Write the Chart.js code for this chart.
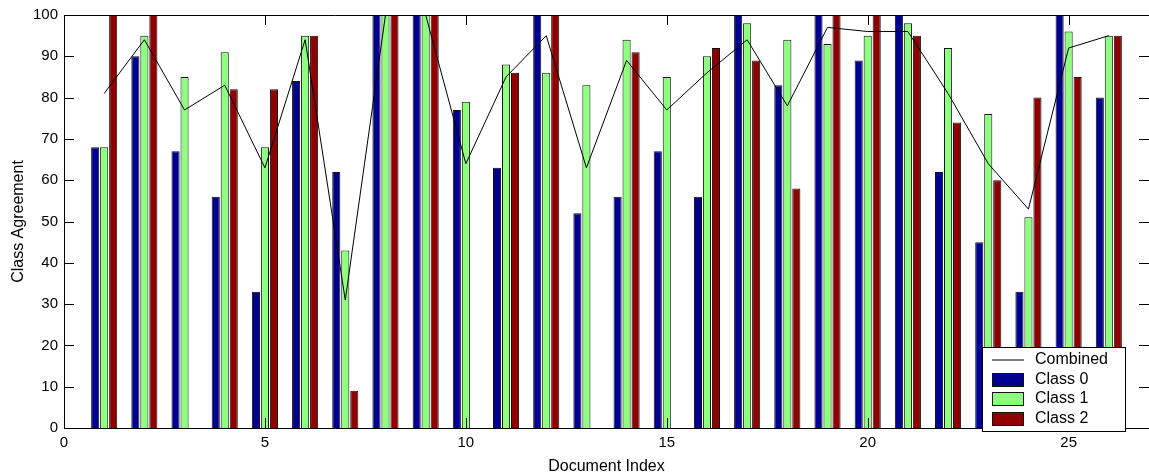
<!DOCTYPE html>
<html>
<head>
<meta charset="utf-8">
<title>Class Agreement</title>
<script src="https://cdn.jsdelivr.net/npm/chart.js@4.4.0/dist/chart.umd.min.js"></script>
<style>
  html, body { margin: 0; padding: 0; background: #fff; }
  canvas { display: block; }
</style>
</head>
<body>
<canvas id="agreement-chart" width="1149" height="474"></canvas>
<script>
'use strict';

const docIndex = [1, 2, 3, 4, 5, 6, 7, 8, 9, 10, 11, 12, 13, 14, 15, 16, 17, 18, 19, 20, 21, 22, 23, 24, 25, 26];
const class0 = [68, 90, 67, 56, 33, 84, 62, 100, 100, 77, 63, 100, 52, 56, 67, 56, 100, 83, 100, 89, 100, 62, 45, 33, 100, 80];
const class1 = [68, 95, 85, 91, 68, 95, 43, 100, 100, 79, 88, 86, 83, 94, 85, 90, 98, 94, 93, 95, 98, 92, 76, 51, 96, 95];
const class2 = [100, 100, 0, 82, 82, 95, 9, 100, 100, 0, 86, 100, 0, 91, 0, 92, 89, 58, 100, 100, 95, 74, 60, 80, 85, 95];
const combined = [81, 94, 77, 83, 63, 94, 31, 100, 100, 64, 85, 95, 63, 89, 77, 86, 94, 78, 97, 96, 96, 81, 64, 53, 92, 95];

const xTicks = [0, 5, 10, 15, 20, 25];
const yTicks = [0, 10, 20, 30, 40, 50, 60, 70, 80, 90, 100];

const FONT = 'Liberation Sans, Arial, Helvetica, sans-serif';

function points(values) {
  return docIndex.map(function (d, i) { return { x: d, y: values[i] }; });
}

function barSet(label, values, color) {
  return {
    type: 'bar',
    label: label,
    data: points(values),
    backgroundColor: color,
    borderColor: '#111',
    borderWidth: 1,
    categoryPercentage: 0.672,
    barPercentage: 0.9,
  };
}

// MATLAB style box with inward ticks on all four sides
const axesBox = {
  id: 'axesBox',
  afterDatasetsDraw: function (chart) {
    const ctx = chart.ctx;
    const a = chart.chartArea;
    const xs = chart.scales.x;
    const ys = chart.scales.y;
    ctx.save();
    ctx.strokeStyle = '#000';
    ctx.lineWidth = 1;
    ctx.beginPath();
    ctx.rect(a.left + 0.5, a.top + 0.5, a.right - a.left, a.bottom - a.top);
    xs.ticks.forEach(function (t) {
      const px = Math.round(xs.getPixelForValue(t.value)) + 0.5;
      ctx.moveTo(px, a.bottom);
      ctx.lineTo(px, a.bottom - 10);
      ctx.moveTo(px, a.top);
      ctx.lineTo(px, a.top + 10);
    });
    ys.ticks.forEach(function (t) {
      const py = Math.round(ys.getPixelForValue(t.value)) + 0.5;
      ctx.moveTo(a.left, py);
      ctx.lineTo(a.left + 10, py);
      ctx.moveTo(a.right, py);
      ctx.lineTo(a.right - 10, py);
    });
    ctx.stroke();
    ctx.restore();
  },
};

const boxLegend = {
  id: 'boxLegend',
  afterDraw: function (chart) {
    const ctx = chart.ctx;
    const left = 982, top = 347, w = 143, h = 84;
    ctx.save();
    ctx.fillStyle = '#fff';
    ctx.fillRect(left, top, w, h);
    ctx.strokeStyle = '#000';
    ctx.lineWidth = 1;
    ctx.strokeRect(left + 0.5, top + 0.5, w, h);
    ctx.font = '16px ' + FONT;
    ctx.textBaseline = 'middle';
    chart.data.datasets.forEach(function (ds, i) {
      const cy = Math.round(top + 13 + i * 19.5);
      if (ds.type === 'line') {
        ctx.strokeStyle = '#000';
        ctx.beginPath();
        ctx.moveTo(992, cy);
        ctx.lineTo(1024, cy);
        ctx.stroke();
      } else {
        ctx.fillStyle = ds.backgroundColor;
        ctx.fillRect(992, cy - 7, 32, 14);
        ctx.strokeStyle = '#111';
        ctx.strokeRect(992.5, cy - 6.5, 31, 13);
      }
      ctx.fillStyle = '#000';
      ctx.fillText(ds.label, 1035, cy);
    });
    ctx.restore();
  },
};

const ctx = document.getElementById('agreement-chart').getContext('2d');
new Chart(ctx, {
  data: {
    datasets: [
      {
        type: 'line',
        label: 'Combined',
        data: points(combined),
        borderColor: '#000',
        borderWidth: 1,
        pointRadius: 0,
        tension: 0,
        fill: false,
      },
      barSet('Class 0', class0, '#00008F'),
      barSet('Class 1', class1, '#8FFF80'),
      barSet('Class 2', class2, '#8F0000'),
    ],
  },
  options: {
    responsive: false,
    animation: false,
    devicePixelRatio: 1,
    layout: {
      padding: { top: 14, right: 0, bottom: 0, left: 0 },
    },
    plugins: {
      legend: { display: false },
      tooltip: { enabled: false },
    },
    scales: {
      x: {
        type: 'linear',
        min: 0,
        max: 27,
        offset: false,
        afterBuildTicks: function (scale) {
          scale.ticks = xTicks.map(function (v) { return { value: v }; });
        },
        afterFit: function (scale) {
          scale.height = 46;
        },
        grid: { display: false, drawTicks: false },
        border: { display: false },
        ticks: {
          color: '#000',
          padding: 6,
          maxRotation: 0,
          autoSkip: false,
          font: { family: FONT, size: 15 },
        },
        title: {
          display: true,
          text: 'Document Index',
          color: '#000',
          padding: { top: 0, bottom: -2 },
          font: { family: FONT, size: 16 },
        },
      },
      y: {
        type: 'linear',
        min: 0,
        max: 100,
        afterBuildTicks: function (scale) {
          scale.ticks = yTicks.map(function (v) { return { value: v }; });
        },
        afterFit: function (scale) {
          scale.width = 64;
        },
        grid: { display: false, drawTicks: false },
        border: { display: false },
        ticks: {
          color: '#000',
          padding: 6,
          font: { family: FONT, size: 15 },
        },
        title: {
          display: true,
          text: 'Class Agreement',
          color: '#000',
          padding: { top: 9, bottom: 0 },
          font: { family: FONT, size: 16 },
        },
      },
    },
  },
  plugins: [axesBox, boxLegend],
});
</script>
</body>
</html>
